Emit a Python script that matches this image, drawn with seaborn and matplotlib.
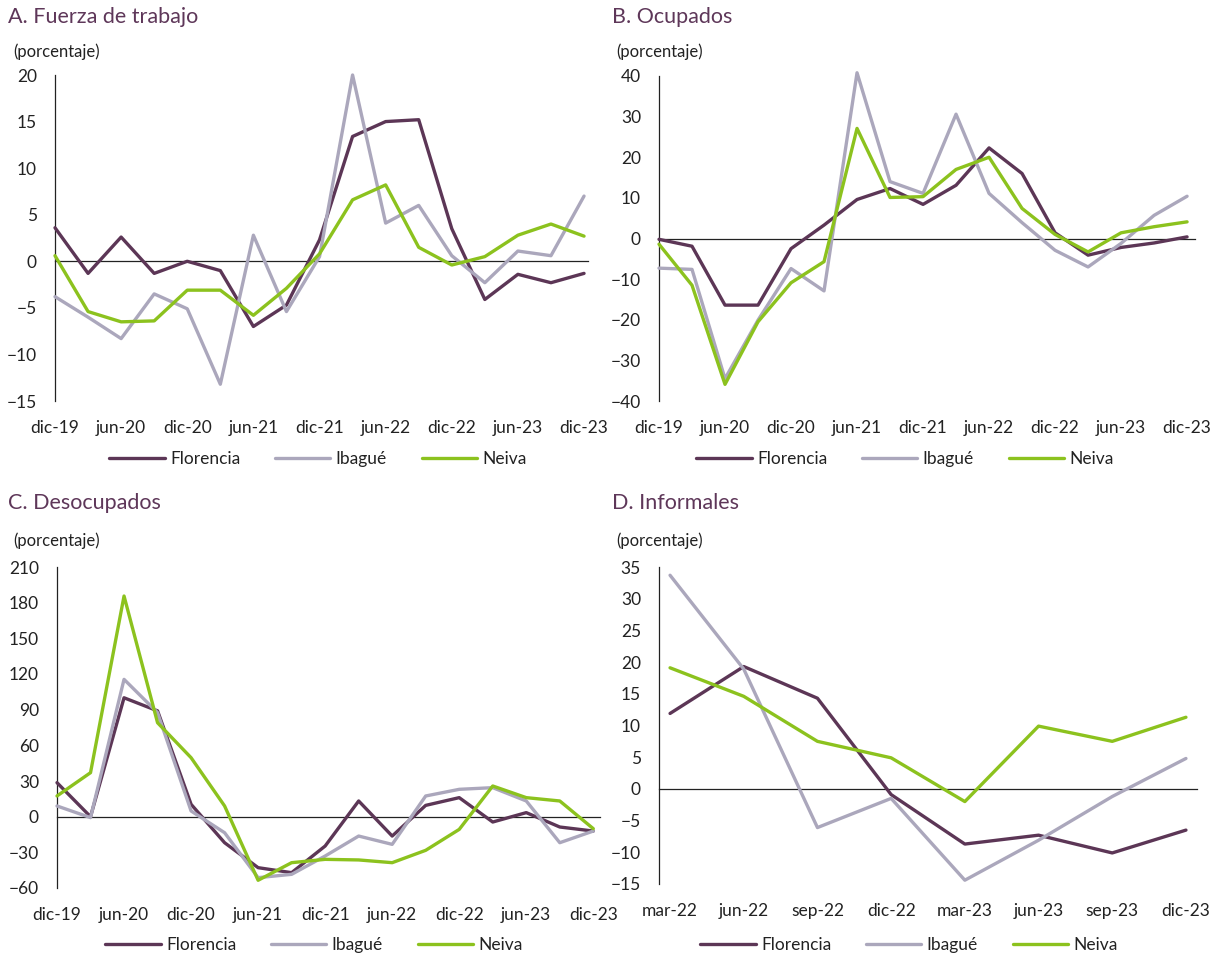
import numpy as np
import pandas as pd
import matplotlib
matplotlib.use("Agg")
import matplotlib.pyplot as plt
import seaborn as sns

# Datos (variación anual, porcentaje)
ciudades = ["Florencia", "Ibagué", "Neiva"]
colores = {"Florencia": "#5c3656", "Ibagué": "#aba7bc", "Neiva": "#8cc21e"}

trimestres = ["dic-19", "mar-20", "jun-20", "sep-20", "dic-20", "mar-21", "jun-21", "sep-21",
              "dic-21", "mar-22", "jun-22", "sep-22", "dic-22", "mar-23", "jun-23", "sep-23", "dic-23"]
trimestres_inf = ["mar-22", "jun-22", "sep-22", "dic-22", "mar-23", "jun-23", "sep-23", "dic-23"]

# A. Fuerza de trabajo
fuerza_florencia = [3.6, -1.3, 2.6, -1.3, 0.0, -1.0, -7.0, -4.7, 2.3, 13.4, 15.0, 15.2, 3.5, -4.1, -1.4, -2.3, -1.3]
fuerza_ibague = [-3.8, -6.0, -8.3, -3.5, -5.1, -13.2, 2.8, -5.4, 0.5, 20.0, 4.1, 6.0, 0.6, -2.3, 1.1, 0.6, 7.0]
fuerza_neiva = [0.6, -5.4, -6.5, -6.4, -3.1, -3.1, -5.8, -2.9, 0.8, 6.6, 8.2, 1.5, -0.4, 0.5, 2.8, 4.0, 2.7]

# B. Ocupados
ocup_florencia = [-0.2, -1.9, -16.4, -16.4, -2.5, 3.3, 9.6, 12.3, 8.4, 13.1, 22.3, 16.0, 1.4, -4.1, -2.2, -1.1, 0.4]
ocup_ibague = [-7.3, -7.6, -34.5, -20.1, -7.4, -12.9, 40.8, 14.0, 11.1, 30.6, 11.1, 3.9, -2.9, -7.0, -1.2, 5.7, 10.4]
ocup_neiva = [-1.4, -11.5, -35.9, -20.5, -10.9, -5.7, 27.1, 10.1, 10.3, 17.0, 20.0, 7.4, 1.0, -3.3, 1.4, 2.9, 4.1]

# C. Desocupados
desoc_florencia = [28.6, 0.0, 100.0, 89.0, 10.4, -21.9, -42.9, -47.1, -24.7, 13.2, -16.3, 9.5, 16.0, -4.5, 3.4, -8.7, -12.1]
desoc_ibague = [9.0, -0.8, 115.5, 87.5, 4.8, -13.5, -51.3, -48.5, -33.1, -16.3, -23.3, 17.4, 23.0, 24.4, 13.2, -21.9, -12.1]
desoc_neiva = [17.4, 37.0, 185.6, 79.0, 49.6, 9.0, -53.5, -38.7, -35.9, -36.4, -38.7, -28.3, -10.7, 25.8, 16.0, 13.2, -10.1]

# D. Informales
inf_florencia = [11.9, 19.3, 14.3, -0.9, -8.7, -7.3, -10.1, -6.5]
inf_ibague = [33.7, 18.9, -6.1, -1.5, -14.4, -8.1, -1.2, 4.8]
inf_neiva = [19.1, 14.6, 7.5, 4.9, -2.0, 9.9, 7.5, 11.3]


def tabla(series, etiquetas):
    filas = []
    for ciudad, valores in zip(ciudades, series):
        for i, v in enumerate(valores):
            filas.append({"pos": i, "periodo": etiquetas[i], "valor": v, "ciudad": ciudad})
    return pd.DataFrame(filas)


sns.set_style("white")
plt.rcParams["font.family"] = ["Lato", "DejaVu Sans"]

W, H = 1221, 959
fig = plt.figure(figsize=(W / 100, H / 100), dpi=100)


def rect(izq, der, arriba, abajo):
    return [izq / W, 1 - abajo / H, (der - izq) / W, (abajo - arriba) / H]


def panel(r, df, ylim, ystep, xlim, ticks_cero, pos_etiq, etiquetas, titulo, titulo_xy, unidad_xy, leyenda_xy):
    ax = fig.add_axes(r)
    sns.lineplot(data=df, x="pos", y="valor", hue="ciudad", palette=colores,
                 linewidth=2.4, ax=ax, sort=False)
    for ln in ax.lines:
        ln.set_clip_on(False)
        ln.set_zorder(3)
    ax.set_ylim(*ylim)
    ax.set_yticks(np.arange(ylim[0], ylim[1] + 1, ystep))
    ax.set_xlim(*xlim)
    ax.set_xlabel("")
    ax.set_ylabel("")
    for s in ["top", "right"]:
        ax.spines[s].set_visible(False)
    for s in ["left", "bottom"]:
        ax.spines[s].set_color("#222222")
        ax.spines[s].set_linewidth(0.9)
    # eje horizontal en cero, con marcas hacia arriba
    ax.spines["bottom"].set_position(("data", 0))
    ax.set_xticks(ticks_cero)
    ax.tick_params(axis="x", direction="in", length=5, width=0.9, color="#222222", labelbottom=False)
    ax.tick_params(axis="y", direction="in", length=5, width=0.9, color="#222222", pad=13,
                   labelsize=12.5, labelcolor="#222222")

    # etiquetas de fecha al pie del panel
    sec = ax.secondary_xaxis("bottom")
    sec.set_xticks(pos_etiq, etiquetas)
    sec.tick_params(length=0, pad=14, labelsize=12.5, labelcolor="#222222")
    for sp in sec.spines.values():
        sp.set_visible(False)

    h, l = ax.get_legend_handles_labels()
    if ax.get_legend() is not None:
        ax.get_legend().remove()
    fig.legend(h, l, loc="center", bbox_to_anchor=(leyenda_xy[0] / W, 1 - leyenda_xy[1] / H),
               ncol=3, frameon=False, fontsize=12.5, handlelength=3.2, handletextpad=0.3,
               columnspacing=2.0, labelcolor="#222222")

    fig.text(titulo_xy[0] / W, 1 - titulo_xy[1] / H, titulo, fontsize=15.5, color="#5e3759",
             va="center", ha="left")
    fig.text(unidad_xy[0] / W, 1 - unidad_xy[1] / H, "(porcentaje)", fontsize=12,
             va="center", ha="left", color="#222222")
    return ax


sem = trimestres[::2]
pos_sem = np.arange(0, 17, 2)

panel(rect(55, 588, 75, 401), tabla([fuerza_florencia, fuerza_ibague, fuerza_neiva], trimestres),
      (-15, 20), 5, (0, 16.12), pos_sem, pos_sem, sem,
      "A. Fuerza de trabajo", (8, 17), (13, 52), (318, 459))

panel(rect(659, 1195, 76, 401), tabla([ocup_florencia, ocup_ibague, ocup_neiva], trimestres),
      (-40, 40), 10, (0, 16.24), pos_sem, pos_sem, sem,
      "B. Ocupados", (612, 17), (616, 52), (905, 459))

panel(rect(57, 600, 567, 888), tabla([desoc_florencia, desoc_ibague, desoc_neiva], trimestres),
      (-60, 210), 30, (0, 16.2), pos_sem, pos_sem, sem,
      "C. Desocupados", (8, 503), (13, 541), (314, 945))

panel(rect(659, 1197, 567, 884), tabla([inf_florencia, inf_ibague, inf_neiva], trimestres_inf),
      (-15, 35), 5, (-0.15, 7.15), np.arange(0, 8) - 0.15, np.arange(8), trimestres_inf,
      "D. Informales", (612, 503), (616, 541), (909, 945))

fig.savefig("out.png", dpi=100)
